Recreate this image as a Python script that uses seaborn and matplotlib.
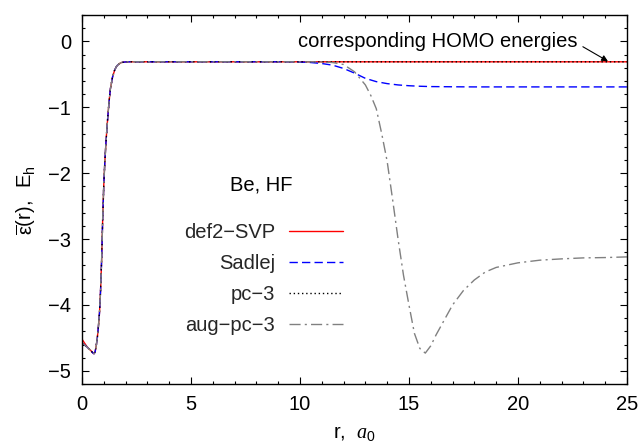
import numpy as np
import pandas as pd
import matplotlib
matplotlib.use('Agg')
import matplotlib.pyplot as plt
from matplotlib.ticker import MultipleLocator
import seaborn as sns

# --- data (r in bohr, eps in hartree) ---
homo = -0.309

# core region, shared by all basis sets
r_core = [0.0, 0.1, 0.2, 0.3, 0.4, 0.5, 0.55, 0.6, 0.65, 0.7, 0.75, 0.8, 0.85,
          0.9, 0.95, 1.0, 1.05, 1.1, 1.15, 1.2, 1.25, 1.3, 1.4, 1.5, 1.6, 1.7,
          1.8, 1.9, 2.0, 2.2]
eps_core = [-4.58, -4.60, -4.63, -4.66, -4.69, -4.73, -4.74, -4.71, -4.62, -4.50,
            -4.33, -4.12, -3.78, -3.30, -2.66, -2.15, -1.80, -1.52, -1.28, -1.07,
            -0.88, -0.72, -0.54, -0.43, -0.37, -0.34, -0.32, -0.315, -0.311, homo]
# def2-SVP starts a little higher at the nucleus
eps_core_svp = [-4.52, -4.57, -4.62] + eps_core[3:]

# flat tail (def2-SVP, pc-3)
r_tail_flat = [3.0, 25.0]
eps_tail_flat = [homo, homo]

r_tail_sadlej = [3.0, 9.5, 10.0, 10.5, 11.0, 11.5, 12.0, 12.5, 13.0, 13.5, 14.0,
                 14.5, 15.0, 15.5, 16.0, 17.0, 18.0, 20.0, 25.0]
eps_tail_sadlej = [homo, homo, -0.312, -0.32, -0.335, -0.36, -0.41, -0.48, -0.56,
                   -0.61, -0.64, -0.66, -0.672, -0.68, -0.685, -0.688, -0.69,
                   -0.69, -0.69]

r_tail_aug = [3.0, 10.0, 11.0, 11.5, 12.0, 12.5, 13.0, 13.25, 13.5, 13.75, 14.0,
              14.25, 14.5, 14.75, 15.0, 15.25, 15.5, 15.75, 16.0, 16.25, 16.5,
              17.0, 17.5, 18.0, 18.5, 19.0, 20.0, 21.0, 22.0, 23.0, 24.0, 25.0]
eps_tail_aug = [homo, homo, -0.31, -0.32, -0.35, -0.46, -0.66, -0.82, -1.02, -1.40,
                -1.82, -2.40, -3.00, -3.55, -4.00, -4.43, -4.66, -4.73, -4.62,
                -4.45, -4.30, -4.00, -3.78, -3.62, -3.50, -3.43, -3.36, -3.32,
                -3.30, -3.285, -3.28, -3.27]

labels = ['def2\u2212SVP', 'Sadlej', 'pc\u22123', 'aug\u2212pc\u22123']
colors = ['#ff0000', '#0000ff', '#000000', '#808080']
styles = ['-', (0, (6, 3)), (0, (1, 2)), (0, (8, 3, 1.5, 3))]

series = {
    labels[0]: (r_core + r_tail_flat, eps_core_svp + eps_tail_flat),
    labels[1]: (r_core + r_tail_sadlej, eps_core + eps_tail_sadlej),
    labels[2]: (r_core + r_tail_flat, eps_core + eps_tail_flat),
    labels[3]: (r_core + r_tail_aug, eps_core + eps_tail_aug),
}

sns.set_theme(style='ticks')
plt.rcParams['font.family'] = ['Liberation Sans', 'DejaVu Sans']
plt.rcParams['mathtext.fontset'] = 'custom'
plt.rcParams['mathtext.rm'] = 'Liberation Sans'
plt.rcParams['mathtext.it'] = 'Liberation Serif:italic'
plt.rcParams['axes.unicode_minus'] = True

fs = 14.5
fig, ax = plt.subplots(figsize=(6.41, 4.44), dpi=100)
fig.subplots_adjust(left=0.128, right=0.978, bottom=0.135, top=0.966)

for lab, col, ls in zip(labels, colors, styles):
    r, e = series[lab]
    df = pd.DataFrame({'r': r, 'eps': e})
    sns.lineplot(data=df, x='r', y='eps', ax=ax, color=col, linestyle=ls,
                 linewidth=1.0, label=lab, estimator=None, sort=False)

ax.set_xlim(0, 25)
ax.set_ylim(-5.2, 0.4)
ax.xaxis.set_major_locator(MultipleLocator(5))
ax.xaxis.set_minor_locator(MultipleLocator(1))
ax.yaxis.set_major_locator(MultipleLocator(1))
ax.yaxis.set_minor_locator(MultipleLocator(0.2))
ax.tick_params(which='both', direction='in', top=True, right=True,
               color='black', width=0.8, labelsize=fs, labelcolor='black')
ax.tick_params(which='major', length=5)
ax.tick_params(which='minor', length=2.5)
ax.tick_params(axis='x', pad=8)
ax.tick_params(axis='y', pad=8)
for sp in ax.spines.values():
    sp.set_color('black')
    sp.set_linewidth(1.0)

ax.set_xlabel(r'r,  $a_{\mathit{0}}$', fontsize=fs, color='black', labelpad=7)
ax.set_ylabel(r'$\overline{\mathrm{\varepsilon}}\mathrm{(r),\ \ E_h}$',
              fontsize=fs, color='black', labelpad=7)

handles, labs = ax.get_legend_handles_labels()
ax.legend(handles, labs, loc='center right', bbox_to_anchor=(0.479, 0.2846),
          frameon=False, markerfirst=False, fontsize=fs, handlelength=2.66,
          handletextpad=0.7, labelspacing=0.6, borderpad=0, borderaxespad=0)

ax.text(0.329, 0.539, 'Be, HF', transform=ax.transAxes, ha='center',
        va='center', fontsize=fs, color='black')

ax.text(22.75, 0.0, 'corresponding HOMO energies', ha='right', va='center',
        fontsize=fs, color='black')
ax.annotate('', xy=(24.13, -0.30), xytext=(22.98, -0.08),
            arrowprops=dict(arrowstyle='-|>', color='black', lw=0.8,
                            shrinkA=0, shrinkB=0, mutation_scale=9))

fig.savefig('out.png', dpi=100)
